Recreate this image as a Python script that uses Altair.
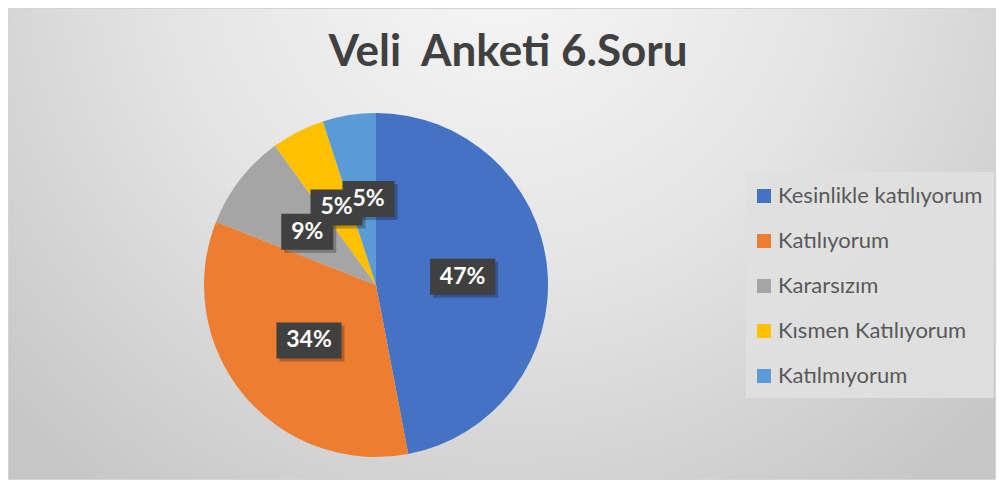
import altair as alt
import pandas as pd

# ---- data ----
categories = ["Kesinlikle katılıyorum", "Katılıyorum", "Kararsızım", "Kısmen Katılıyorum", "Katılmıyorum"]
shares = [47, 34, 9, 5, 5]
labels = ["47%", "34%", "9%", "5%", "5%"]
colors = ["#4472C4", "#ED7D31", "#A5A5A5", "#FFC000", "#5B9BD5"]
title_text = "Veli\u00a0 Anketi 6.Soru"

W, H = 988, 472
CX, CY, R = 368, 277, 172
LR = 87  # label radius

df = pd.DataFrame({"cat": categories, "share": shares, "label": labels,
                   "idx": list(range(len(categories)))})
one = pd.DataFrame({"t": [title_text]})

FONT = "Lato"

# background with radial gradient
bg = alt.Chart(one).mark_rect(
    stroke="#d4d4d4", strokeWidth=1,
    color=alt.Gradient(
        gradient="radial", x1=0.5, y1=0.2, r1=0, x2=0.5, y2=0.2, r2=0.68,
        stops=[alt.GradientStop(color="#f7f7f7", offset=0),
               alt.GradientStop(color="#e4e4e4", offset=0.5),
               alt.GradientStop(color="#c7c7c7", offset=1)])
).encode(x=alt.value(0.5), x2=alt.value(W - 0.5), y=alt.value(0.5), y2=alt.value(H - 0.5))

# legend box
legbox = alt.Chart(one).mark_rect(color="#e0e0e0", opacity=0.9).encode(
    x=alt.value(738), x2=alt.value(986), y=alt.value(164), y2=alt.value(390))

title = alt.Chart(one).mark_text(
    font=FONT, fontSize=44, fontWeight="bold", color="#404040",
    align="center", baseline="alphabetic"
).encode(text="t:N", x=alt.value(500), y=alt.value(58))

pie = alt.Chart(df).mark_arc(radius=R).encode(
    theta=alt.Theta("share:Q", stack=True),
    order=alt.Order("idx:Q"),
    color=alt.Color("cat:N", sort=categories,
                    scale=alt.Scale(domain=categories, range=colors),
                    legend=alt.Legend(title=None, orient="none", legendX=745, legendY=177,
                                      symbolType="square", symbolSize=196, symbolStrokeWidth=0,
                                      labelFont=FONT, labelFontSize=22, labelColor="#595959",
                                      labelOffset=3, rowPadding=23, labelLimit=400,
                                      padding=0)),
    x=alt.value(CX), y=alt.value(CY),
)

# label placement: mid-angle at fixed radius, then push a label right
# when it would collide with the previous one (best-fit style)
lab_base = alt.Chart(df).transform_joinaggregate(
    total="sum(share)"
).transform_window(
    cum="sum(share)", sort=[alt.SortField("idx")], frame=[None, 0]
).transform_calculate(
    mid="(datum.cum - datum.share/2) / datum.total * 2 * PI"
).transform_calculate(
    lx0=f"{CX} + {LR} * sin(datum.mid)",
    ly=f"{CY} - {LR} * cos(datum.mid)",
    tw="length(datum.label) * 13 + 6",
).transform_window(
    plx="lag(lx0)", ply="lag(ly)", ptw="lag(tw)", sort=[alt.SortField("idx")]
).transform_calculate(
    lx="(datum.plx != null && abs(datum.ly - datum.ply) < 20) ? max(datum.lx0, datum.plx + (datum.ptw + datum.tw)/2) : datum.lx0",
    bw="length(datum.label) * 13 + 26",
).transform_calculate(
    bx1="datum.lx - datum.bw/2", bx2="datum.lx + datum.bw/2",
    by1="datum.ly - 18", by2="datum.ly + 18",
    sx1="datum.lx - datum.bw/2 + 3", sx2="datum.lx + datum.bw/2 + 3",
    sy1="datum.ly - 15", sy2="datum.ly + 21",
)

shadow = lab_base.mark_rect(color="#000000", opacity=0.25).encode(
    x=alt.X("sx1:Q", scale=None), x2="sx2:Q",
    y=alt.Y("sy1:Q", scale=None), y2="sy2:Q")

boxes = lab_base.mark_rect(color="#404040").encode(
    x=alt.X("bx1:Q", scale=None), x2="bx2:Q",
    y=alt.Y("by1:Q", scale=None), y2="by2:Q")

texts = lab_base.mark_text(
    font=FONT, fontSize=23, fontWeight="bold", color="#ffffff",
    align="center", baseline="middle"
).encode(x=alt.X("lx:Q", scale=None), y=alt.Y("ly:Q", scale=None), text="label:N")

chart = alt.layer(bg, legbox, title, pie, shadow, boxes, texts).properties(
    width=W, height=H, padding=0, autosize=alt.AutoSizeParams(type="none")
).configure_view(stroke=None).configure(background="#ffffff")

chart.save("out.html", embed_options={"renderer": "svg", "actions": False})
